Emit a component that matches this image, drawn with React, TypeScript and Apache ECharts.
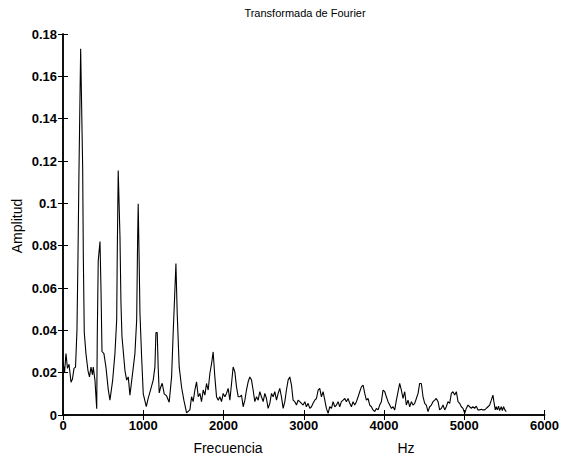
import React, { useEffect, useRef } from "react";
import * as echarts from "echarts";

const titleText = "Transformada de Fourier";
const xAxisName = "Frecuencia";
const xUnit = "Hz";
const yAxisName = "Amplitud";

const xTicks = [0, 1000, 2000, 3000, 4000, 5000, 6000];
const yTicks = [0, 0.02, 0.04, 0.06, 0.08, 0.1, 0.12, 0.14, 0.16, 0.18];

// Frequencies (Hz)
const freqLow = [0,19,37,56,75,100,118,137,156,174,187,199,220,245,253,265,286,311,330,349,367,377,398,420,427,439,461,473,486,510,535,564,585,619,647,669,676,688,710,722,735,772,793,813,834,868,896,918,930,937,948,959,980,1000,1038,1062,1092,1124,1145,1158,1174,1186,1199,1216,1236,1261,1291,1323,1353,1373,1391,1407,1423,1448,1478,1506,1540];
const ampLow = [0.025,0.020,0.029,0.022,0.024,0.0155,0.017,0.022,0.0226,0.040,0.076,0.115,0.173,0.117,0.076,0.039,0.029,0.021,0.018,0.0226,0.019,0.0226,0.0165,0.003,0.037,0.073,0.082,0.060,0.030,0.029,0.0226,0.012,0.007,0.0165,0.029,0.045,0.076,0.1155,0.084,0.053,0.037,0.021,0.0165,0.018,0.0094,0.020,0.029,0.045,0.084,0.0998,0.075,0.048,0.027,0.010,0.004,0.008,0.012,0.0165,0.0226,0.039,0.039,0.0226,0.0104,0.013,0.015,0.010,0.009,0.006,0.018,0.039,0.056,0.0716,0.048,0.0226,0.013,0.007,0.001];

const freqHigh = [1581,1602,1622,1643,1664,1685,1706,1726,1747,1768,1788,1809,1830,1851,1871,1892,1913,1934,1954,1975,1996,2017,2037,2058,2079,2100,2120,2141,2162,2183,2203,2224,2245,2266,2286,2307,2328,2349,2369,2390,2411,2432,2452,2473,2494,2515,2535,2556,2577,2598,2618,2639,2660,2681,2701,2722,2743,2764,2784,2805,2826,2847,2867,2888,2909,2930,2950,2971,2992,3013,3033,3054,3075,3096,3116,3137,3158,3179,3199,3220,3241,3262,3282,3303,3324,3345,3365,3386,3407,3428,3448,3469,3490,3511,3531,3552,3573,3594,3614,3635,3656,3677,3697,3718,3739,3760,3780,3801,3822,3843,3863,3884,3905,3926,3946,3967,3988,4009,4029,4050,4071,4092,4112,4133,4154,4175,4195,4216,4237,4258,4278,4299,4320,4341,4361,4382,4403,4424,4444,4465,4486,4507,4527,4548,4569,4590,4610,4631,4652,4673,4693,4714,4735,4756,4776,4797,4818,4839,4859,4880,4901,4922,4942,4963,4984,5005,5025,5046,5067,5088,5108,5129,5150,5171,5191,5212,5233,5254,5274,5295,5316,5337,5357,5369,5386,5399,5411,5427,5440,5461,5474,5490,5506,5523];
const ampHigh = [0.0024,0.0086,0.0063,0.0118,0.0157,0.0086,0.0102,0.0063,0.0118,0.0094,0.0149,0.0118,0.0196,0.0243,0.0298,0.018,0.0086,0.007,0.0086,0.0063,0.0102,0.0086,0.0102,0.0126,0.007,0.0149,0.0227,0.0204,0.0133,0.0086,0.0086,0.0094,0.0039,0.007,0.0118,0.0157,0.018,0.0165,0.0118,0.0063,0.0086,0.007,0.011,0.0086,0.0063,0.0102,0.0078,0.0031,0.0055,0.0102,0.0086,0.011,0.007,0.0102,0.0126,0.0086,0.0031,0.0063,0.0118,0.0165,0.018,0.0141,0.007,0.0063,0.0047,0.007,0.0063,0.0055,0.0047,0.0063,0.0039,0.0055,0.0031,0.0039,0.0055,0.007,0.0078,0.0118,0.0126,0.0086,0.011,0.007,0.0031,0.0008,0.0039,0.0031,0.0063,0.0039,0.0047,0.0063,0.0039,0.0063,0.007,0.0078,0.0063,0.0078,0.0055,0.0039,0.0063,0.0047,0.0063,0.0086,0.011,0.0133,0.0141,0.0102,0.007,0.0078,0.0047,0.0039,0.0024,0.0016,0.0031,0.0024,0.0047,0.0063,0.0118,0.011,0.0086,0.0063,0.0047,0.0031,0.0039,0.0024,0.007,0.011,0.0149,0.0118,0.0078,0.011,0.0047,0.007,0.0039,0.0063,0.0047,0.0055,0.0078,0.0102,0.0149,0.0149,0.0086,0.0055,0.0047,0.0016,0.0039,0.0047,0.0063,0.007,0.0078,0.0063,0.0024,0.0031,0.0047,0.0024,0.0039,0.0063,0.0055,0.0102,0.011,0.0094,0.011,0.0063,0.0055,0.0039,0.0031,0.0008,0.0031,0.0047,0.0039,0.0031,0.0039,0.0031,0.0042,0.0024,0.0024,0.0027,0.0024,0.0024,0.0031,0.0039,0.0047,0.007,0.0094,0.0063,0.0024,0.0039,0.0024,0.0042,0.0021,0.0039,0.0021,0.0039,0.0024,0.0016];

const FONT = "'Liberation Sans', Arial, Helvetica, sans-serif";

export default function App() {
  const ref = useRef<HTMLDivElement>(null);
  useEffect(() => {
    if (!ref.current) return;
    const chart = echarts.init(ref.current, undefined, { renderer: "svg" });
    const freqs = [...freqLow, ...freqHigh];
    const amps = [...ampLow, ...ampHigh];
    const data = freqs.map((f, i) => [f, amps[i]]);
    const gridLeft = 63, gridRight = 15, gridTop = 34, gridBottom = 41;
    const axisLineStyle = { color: "#000", width: 1.5 };
    const tickStyle = { show: true, inside: true, length: 5, lineStyle: { color: "#000", width: 1 } };
    const tickLabel = { color: "#000", fontSize: 13, fontWeight: "bold" as const, fontFamily: FONT };
    chart.setOption({
      animation: false,
      backgroundColor: "#fff",
      grid: { left: gridLeft, right: gridRight, top: gridTop, bottom: gridBottom, containLabel: false },
      xAxis: [
        {
          type: "value",
          min: xTicks[0],
          max: xTicks[xTicks.length - 1],
          interval: 1000,
          position: "bottom",
          axisLine: { show: true, lineStyle: axisLineStyle },
          axisTick: tickStyle,
          axisLabel: { ...tickLabel, margin: 4, formatter: (v: number) => String(v) },
          splitLine: { show: false },
        },
        {
          type: "value",
          min: xTicks[0],
          max: xTicks[xTicks.length - 1],
          interval: 1000,
          position: "top",
          axisLine: { show: true, lineStyle: axisLineStyle },
          axisTick: tickStyle,
          axisLabel: { show: false },
          splitLine: { show: false },
        },
      ],
      yAxis: [
        {
          type: "value",
          min: yTicks[0],
          max: yTicks[yTicks.length - 1],
          interval: 0.02,
          position: "left",
          axisLine: { show: true, lineStyle: axisLineStyle },
          axisTick: tickStyle,
          axisLabel: { ...tickLabel, margin: 6, formatter: (v: number) => String(+v.toFixed(2)) },
          splitLine: { show: false },
        },
        {
          type: "value",
          min: yTicks[0],
          max: yTicks[yTicks.length - 1],
          interval: 0.02,
          position: "right",
          axisLine: { show: true, lineStyle: axisLineStyle },
          axisTick: tickStyle,
          axisLabel: { show: false },
          splitLine: { show: false },
        },
      ],
      graphic: [
        {
          type: "text",
          x: 305,
          y: 13,
          style: { text: titleText, fill: "#000", font: `11px ${FONT}`, textAlign: "center", textVerticalAlign: "middle" },
        },
        {
          type: "text",
          x: 228,
          y: 448,
          style: { text: xAxisName, fill: "#000", font: `14px ${FONT}`, textAlign: "center", textVerticalAlign: "middle" },
        },
        {
          type: "text",
          x: 406,
          y: 448,
          style: { text: xUnit, fill: "#000", font: `14px ${FONT}`, textAlign: "center", textVerticalAlign: "middle" },
        },
        {
          type: "text",
          x: 17,
          y: 226,
          rotation: Math.PI / 2,
          style: { text: yAxisName, fill: "#000", font: `14px ${FONT}`, textAlign: "center", textVerticalAlign: "middle" },
        },
      ],
      series: [
        {
          type: "line",
          xAxisIndex: 0,
          yAxisIndex: 0,
          data,
          showSymbol: false,
          symbol: "none",
          lineStyle: { color: "#000", width: 1.1 },
          silent: true,
        },
      ],
    });
    return () => chart.dispose();
  }, []);
  return (
    <div
      ref={ref}
      style={{ position: "fixed", left: 0, top: 0, width: 562, height: 456, background: "#fff" }}
    />
  );
}
